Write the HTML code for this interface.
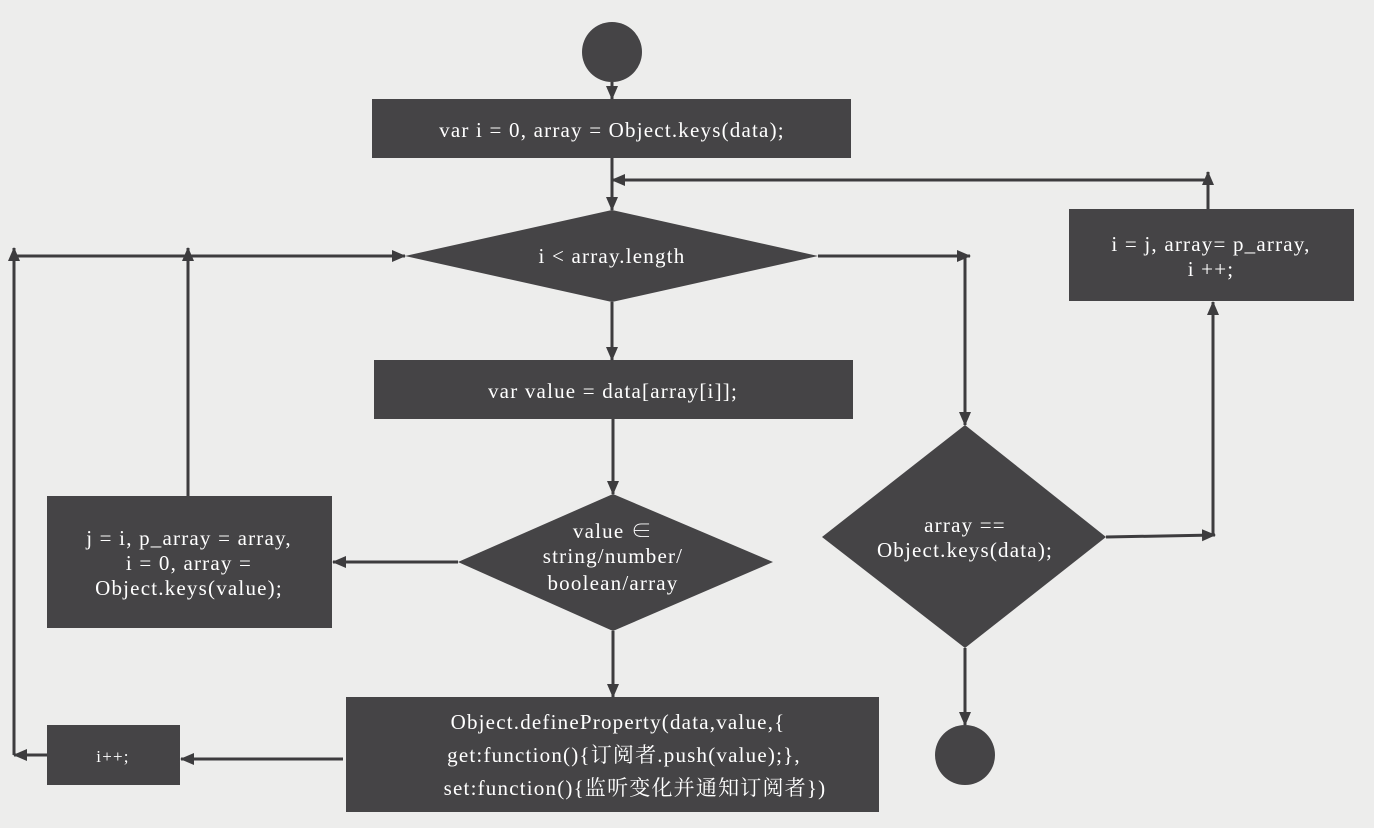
<!DOCTYPE html>
<html><head><meta charset="utf-8"><style>
html,body{margin:0;padding:0;background:#ededec;}
svg{display:block}
text{font-family:"Liberation Serif","Noto Serif CJK SC",serif;font-size:21px;letter-spacing:1.2px;fill:#fff;text-anchor:middle}
</style></head><body>
<svg width="1374" height="828" viewBox="0 0 1374 828" xmlns="http://www.w3.org/2000/svg">
<defs>
<marker id="a" markerWidth="14" markerHeight="14" refX="13" refY="7" orient="auto" markerUnits="userSpaceOnUse" viewBox="0 0 14 14">
<path d="M0,1 L14,7 L0,13 z" fill="#3d3c3e"/></marker>
</defs>
<rect width="1374" height="828" fill="#ededec"/>
<g fill="#454446">
<circle cx="612" cy="52" r="30"/>
<rect x="372" y="99" width="479" height="59"/>
<polygon points="612,210 818,256 612,302 405,256"/>
<rect x="374" y="360" width="479" height="59"/>
<polygon points="613,494 773,562 613,631 458,562"/>
<rect x="47" y="496" width="285" height="132"/>
<rect x="346" y="697" width="533" height="115"/>
<rect x="47" y="725" width="133" height="60"/>
<polygon points="965,425 1106,537 965,648 822,537"/>
<circle cx="965" cy="755" r="30"/>
<rect x="1069" y="209" width="285" height="92"/>
</g>
<g stroke="#3d3c3e" stroke-width="3" fill="none">
<line x1="612" y1="82" x2="612" y2="99" marker-end="url(#a)"/>
<line x1="612" y1="158" x2="612" y2="210" marker-end="url(#a)"/>
<polyline points="1208,209 1208,172" marker-end="url(#a)"/>
<polyline points="1208,180 612,180" marker-end="url(#a)"/>
<line x1="612" y1="302" x2="612" y2="360" marker-end="url(#a)"/>
<line x1="613" y1="419" x2="613" y2="494" marker-end="url(#a)"/>
<line x1="458" y1="562" x2="333" y2="562" marker-end="url(#a)"/>
<line x1="188" y1="496" x2="188" y2="248" marker-end="url(#a)"/>
<polyline points="14,256 405,256" marker-end="url(#a)"/>
<line x1="613" y1="631" x2="613" y2="697" marker-end="url(#a)"/>
<line x1="343" y1="759" x2="181" y2="759" marker-end="url(#a)"/>
<line x1="47" y1="755" x2="14" y2="755" marker-end="url(#a)"/>
<line x1="14" y1="755" x2="14" y2="248" marker-end="url(#a)"/>
<line x1="818" y1="256" x2="970" y2="256" marker-end="url(#a)"/>
<line x1="965" y1="256" x2="965" y2="425" marker-end="url(#a)"/>
<line x1="965" y1="648" x2="965" y2="725" marker-end="url(#a)"/>
<line x1="1106" y1="537" x2="1215" y2="535" marker-end="url(#a)"/>
<line x1="1213" y1="535" x2="1213" y2="302" marker-end="url(#a)"/>
</g>
<text x="612" y="137">var i = 0, array = Object.keys(data);</text>
<text x="612" y="263">i &lt; array.length</text>
<text x="613" y="398">var value = data[array[i]];</text>
<text x="613" y="538">value ∈</text>
<text x="613" y="563">string/number/</text>
<text x="613" y="590">boolean/array</text>
<text x="189" y="545">j = i, p_array = array,</text>
<text x="189" y="570">i = 0, array =</text>
<text x="189" y="595">Object.keys(value);</text>
<text x="618" y="729">Object.defineProperty(data,value,{</text>
<text x="624" y="762">get:function(){订阅者.push(value);},</text>
<text x="635" y="795">set:function(){监听变化并通知订阅者})</text>
<text x="113" y="762" style="font-size:17px">i++;</text>
<text x="965" y="532">array ==</text>
<text x="965" y="557">Object.keys(data);</text>
<text x="1211" y="251">i = j, array= p_array,</text>
<text x="1211" y="276">i ++;</text>
</svg>
</body></html>
